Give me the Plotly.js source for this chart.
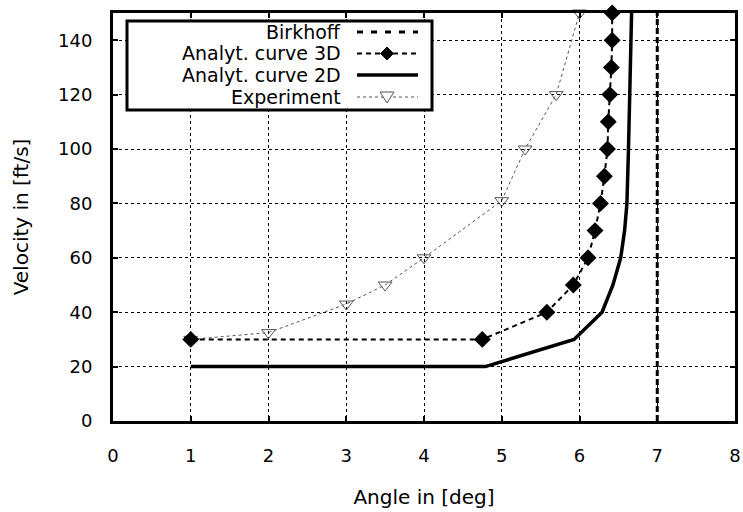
<!DOCTYPE html>
<html>
<head>
<meta charset="utf-8">
<script src="https://cdn.plot.ly/plotly-3.0.1.min.js"></script>
<style>html,body{margin:0;padding:0;background:#fff;}#chart{width:743px;height:512px;}</style>
</head>
<body>
<div id="chart"></div>
<script>
// ---- data ----
const birkhoffX = [7, 7];
const birkhoffY = [0, 150];

const curve3dX = [1, 4.75, 5.58, 5.92, 6.11, 6.20, 6.27, 6.32, 6.36, 6.37, 6.39, 6.41, 6.42, 6.42];
const curve3dY = [30, 30, 40, 50, 60, 70, 80, 90, 100, 110, 120, 130, 140, 150];

const curve2dX = [1, 4.79, 5.93, 6.29, 6.43, 6.53, 6.58, 6.61, 6.63, 6.65, 6.67];
const curve2dY = [20, 20, 30, 40, 50, 60, 70, 80, 100, 120, 150];

const expX = [1, 2, 3, 3.5, 4, 5, 5.3, 5.7, 6];
const expY = [30, 32.5, 43, 50, 60, 81, 100, 120, 150];

const legendNames = ["Birkhoff", "Analyt. curve 3D", "Analyt. curve 2D", "Experiment"];

const xTicks = [0, 1, 2, 3, 4, 5, 6, 7, 8];
const yTicks = [0, 20, 40, 60, 80, 100, 120, 140];

// ---- layout helpers (pixel -> paper) ----
const L = 113, R = 735, T = 13, B = 421;
const px = x => (x - L) / (R - L);
const py = y => (B - y) / (B - T);

const FONT = "DejaVu Sans, Verdana, sans-serif";
const GRAY = "#555";

const traces = [
  {x: birkhoffX, y: birkhoffY, mode: "lines", name: legendNames[0],
   line: {color: "#000", width: 3, dash: "6px,3px"}, cliponaxis: false},
  {x: curve2dX, y: curve2dY, mode: "lines", name: legendNames[2],
   line: {color: "#000", width: 3.5}, cliponaxis: false},
  {x: expX, y: expY, mode: "lines+markers", name: legendNames[3],
   line: {color: GRAY, width: 1, dash: "dot"},
   marker: {symbol: "triangle-down-open", size: 12, color: GRAY, line: {width: 1, color: GRAY}},
   cliponaxis: false},
  {x: curve3dX, y: curve3dY, mode: "lines+markers", name: legendNames[1],
   line: {color: "#000", width: 2, dash: "5px,4px"},
   marker: {symbol: "diamond", size: 13, color: "#000"}, cliponaxis: false}
];

// custom legend (text on the left, sample on the right)
const rows = [32, 53.5, 75, 97];
const sx0 = 357, sx1 = 418, sxc = 387;
const shapes = [
  {type: "rect", xref: "paper", yref: "paper", x0: px(127), x1: px(432), y0: py(110), y1: py(21),
   line: {color: "#000", width: 3}, fillcolor: "#fff", layer: "above"},
  {type: "line", xref: "paper", yref: "paper", x0: px(sx0), x1: px(sx1), y0: py(rows[0]), y1: py(rows[0]),
   line: {color: "#000", width: 3, dash: "6px,8px"}, layer: "above"},
  {type: "line", xref: "paper", yref: "paper", x0: px(sx0), x1: px(sx1), y0: py(rows[1]), y1: py(rows[1]),
   line: {color: "#000", width: 2, dash: "5px,4px"}, layer: "above"},
  {type: "line", xref: "paper", yref: "paper", x0: px(sx0), x1: px(sx1), y0: py(rows[2]), y1: py(rows[2]),
   line: {color: "#000", width: 3.5}, layer: "above"},
  {type: "line", xref: "paper", yref: "paper", x0: px(sx0), x1: px(sx1), y0: py(rows[3]), y1: py(rows[3]),
   line: {color: GRAY, width: 1, dash: "dot"}, layer: "above"}
];
function pathOf(pts) {
  return "M" + pts.map(p => px(p[0]) + "," + py(p[1])).join(" L") + " Z";
}
const d = 6.5;
shapes.push({type: "path", xref: "paper", yref: "paper",
  path: pathOf([[sxc, rows[1] - d], [sxc + d, rows[1]], [sxc, rows[1] + d], [sxc - d, rows[1]]]),
  fillcolor: "#000", line: {color: "#000", width: 1}, layer: "above"});
shapes.push({type: "path", xref: "paper", yref: "paper",
  path: pathOf([[sxc - 7, rows[3] - 5], [sxc + 7, rows[3] - 5], [sxc, rows[3] + 6]]),
  fillcolor: "#fff", line: {color: GRAY, width: 1}, layer: "above"});

const annotations = legendNames.map((n, i) => ({
  text: n, xref: "paper", yref: "paper", x: px(343), y: py(rows[i]),
  xanchor: "right", yanchor: "middle", showarrow: false,
  font: {family: FONT, size: 19, color: "#000"}
}));

const axisCommon = {
  showline: true, linecolor: "#000", linewidth: 3, mirror: "ticks",
  ticks: "inside", ticklen: 5, tickwidth: 2, tickcolor: "#000",
  showgrid: true, gridcolor: "#000", gridwidth: 1, griddash: "dot",
  zeroline: false, tickfont: {family: FONT, size: 18, color: "#000"}
};

const layout = {
  width: 743, height: 512,
  margin: {l: L, r: 743 - R, t: T, b: 512 - B},
  paper_bgcolor: "#fff", plot_bgcolor: "#fff",
  showlegend: false,
  font: {family: FONT, color: "#000"},
  xaxis: Object.assign({}, axisCommon, {
    range: [0, 8], tickvals: xTicks, ticktext: xTicks.map(String),
    ticklabelstandoff: 16,
    title: {text: "Angle in [deg]", font: {family: FONT, size: 20, color: "#000"}, standoff: 26}
  }),
  yaxis: Object.assign({}, axisCommon, {
    range: [0, 150], tickvals: yTicks, ticktext: yTicks.map(String),
    ticklabelstandoff: 14,
    title: {text: "Velocity in [ft/s]", font: {family: FONT, size: 20, color: "#000"}, standoff: 25}
  }),
  shapes: shapes,
  annotations: annotations
};

Plotly.newPlot("chart", traces, layout, {displayModeBar: false, staticPlot: true});
</script>
</body>
</html>
